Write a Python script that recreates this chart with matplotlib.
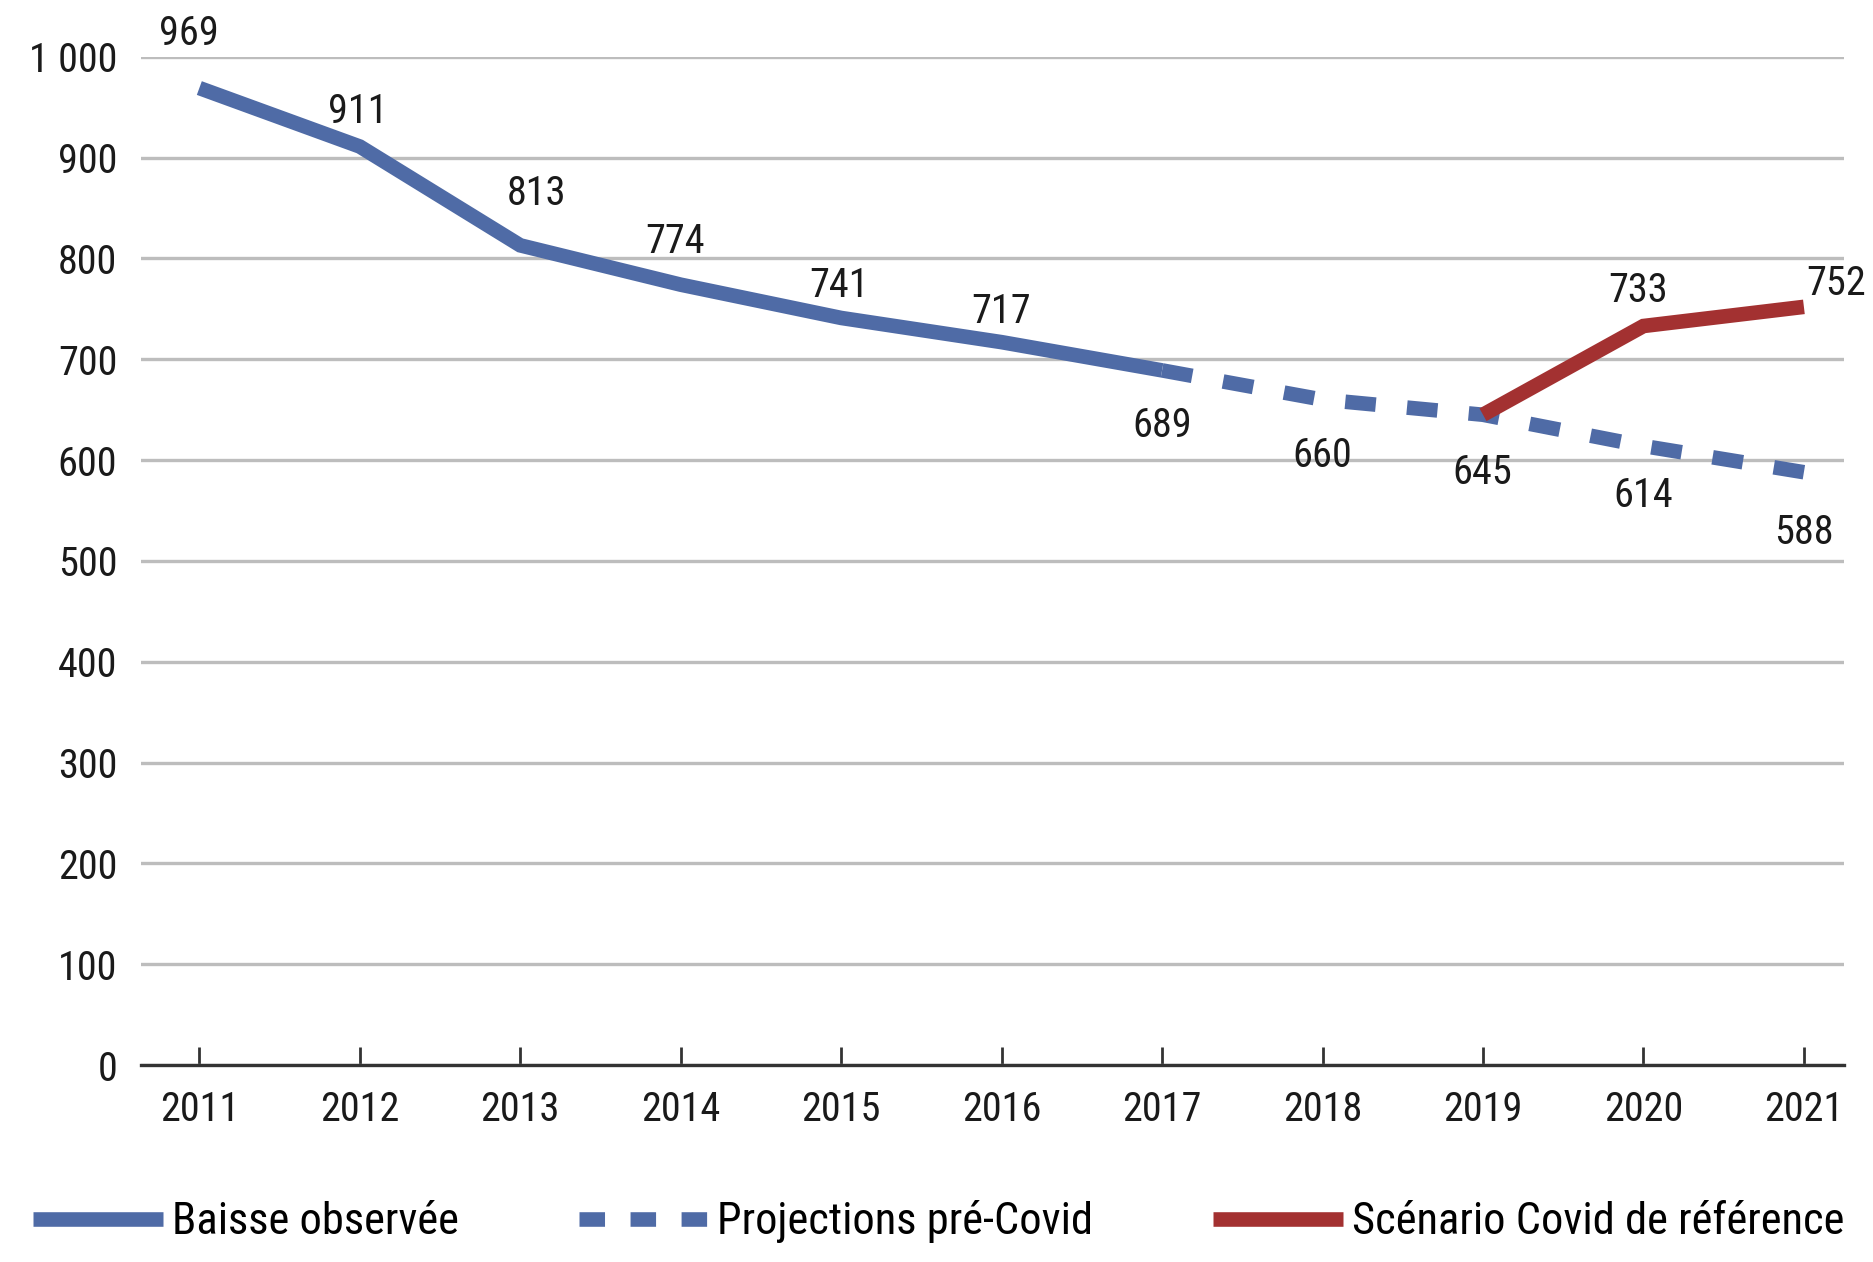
import matplotlib
matplotlib.use("Agg")
import matplotlib.pyplot as plt
from matplotlib.lines import Line2D
from matplotlib import font_manager

# Data
years = [2011, 2012, 2013, 2014, 2015, 2016, 2017, 2018, 2019, 2020, 2021]
observed_years = [2011, 2012, 2013, 2014, 2015, 2016, 2017]
observed = [969, 911, 813, 774, 741, 717, 689]
proj_years = [2017, 2018, 2019, 2020, 2021]
projection = [689, 660, 645, 614, 588]
covid_years = [2019, 2020, 2021]
covid = [645, 733, 752]
yticks = [0, 100, 200, 300, 400, 500, 600, 700, 800, 900, 1000]
ytick_labels = ["0", "100", "200", "300", "400", "500", "600", "700", "800", "900", "1 000"]

BLUE = "#4f6ba6"
RED = "#a33131"
GRID = "#bdbdbd"
TXT = "#1a1a1a"

# look for a narrow / condensed face, the original uses a condensed DIN-like font
prefs = ["LiberationSansNarrow-Regular", "RobotoCondensed-Regular",
         "DejaVuSansCondensed.ttf", "NotoSans-Condensed.ttf",
         "NotoSans-CondensedRegular", "OpenSans-CondensedRegular",
         "OpenSans_Condensed-Regular", "Condensed-Regular", "Narrow-Regular"]
files = [f.fname for f in font_manager.fontManager.ttflist]
font_path = None
for p in prefs:
    hits = [f for f in files if p.lower() in f.lower()]
    if hits:
        font_path = hits[0]
        break
if font_path is None:
    for f in font_manager.fontManager.ttflist:
        if f.stretch in ("condensed", "semi-condensed") and f.weight == 400 \
                and f.style == "normal":
            font_path = f.fname
            break

narrow = font_path is not None
fs = 29 if narrow else 25
lfs = 32 if narrow else 26


def fp(size):
    if narrow:
        return font_manager.FontProperties(fname=font_path, size=size)
    return font_manager.FontProperties(family="DejaVu Sans", size=size)


fig = plt.figure(figsize=(18.74, 12.62), dpi=100)
ax = fig.add_axes([0.0752, 0.156, 0.9088, 0.799])

lw = 10.5
ax.plot(observed_years, observed, color=BLUE, lw=lw, solid_capstyle="butt",
        solid_joinstyle="miter", zorder=3)
ax.plot(proj_years, projection, color=BLUE, lw=lw, dashes=(2.1, 2.15),
        dash_capstyle="butt", zorder=3)
ax.plot(covid_years, covid, color=RED, lw=lw, solid_capstyle="butt",
        solid_joinstyle="miter", zorder=4)

# value labels (offsets in pixels)
label_offsets = {
    "obs": [(-10, 55), (-2, 35), (16, 52), (-6, 43), (-2, 32), (-1, 31), (0, -55)],
    "proj": [None, (0, -56), (-1, -58), (0, -49), (0, -60)],
    "cov": [None, (-5, 36), (32, 23)],
}
for xs, ys, key in [(observed_years, observed, "obs"),
                    (proj_years, projection, "proj"),
                    (covid_years, covid, "cov")]:
    for x, y, off in zip(xs, ys, label_offsets[key]):
        if off is None:
            continue
        ax.annotate(str(y), (x, y), xytext=off, textcoords="offset pixels",
                    ha="center", va="center", fontproperties=fp(fs), color=TXT,
                    annotation_clip=False)

ax.set_xlim(2011 - 0.364, 2021 + 0.25)
ax.set_ylim(0, 1000)
ax.set_yticks(yticks)
ax.set_yticklabels(ytick_labels)
ax.set_xticks(years)
ax.set_xticklabels([str(y) for y in years])
for lab in ax.get_xticklabels() + ax.get_yticklabels():
    lab.set_fontproperties(fp(fs))
ax.yaxis.grid(True, color=GRID, lw=2.4)
ax.set_axisbelow(True)
for s in ["left", "right", "top"]:
    ax.spines[s].set_visible(False)
ax.spines["bottom"].set_color("#333333")
ax.spines["bottom"].set_linewidth(2.4)
ax.spines["bottom"].set_zorder(2)
ax.tick_params(axis="y", length=0, pad=17, labelcolor=TXT)
ax.tick_params(axis="x", direction="in", length=13, width=2, color="#333333",
               pad=18, labelcolor=TXT)

handles = [
    Line2D([], [], color=BLUE, lw=lw, solid_capstyle="butt"),
    Line2D([], [], color=BLUE, lw=lw, dashes=(1.75, 1.75), dash_capstyle="butt"),
    Line2D([], [], color=RED, lw=lw, solid_capstyle="butt"),
]
fig.legend(handles, ["Baisse observée", "Projections pré-Covid",
                     "Scénario Covid de référence"],
           loc="center left", bbox_to_anchor=(0.008, 0.032), ncol=3,
           frameon=False, prop=fp(lfs), handlelength=130 / (lfs * 100 / 72),
           handletextpad=0.2, columnspacing=2.7, borderaxespad=0)

fig.savefig("out.png", dpi=100)
